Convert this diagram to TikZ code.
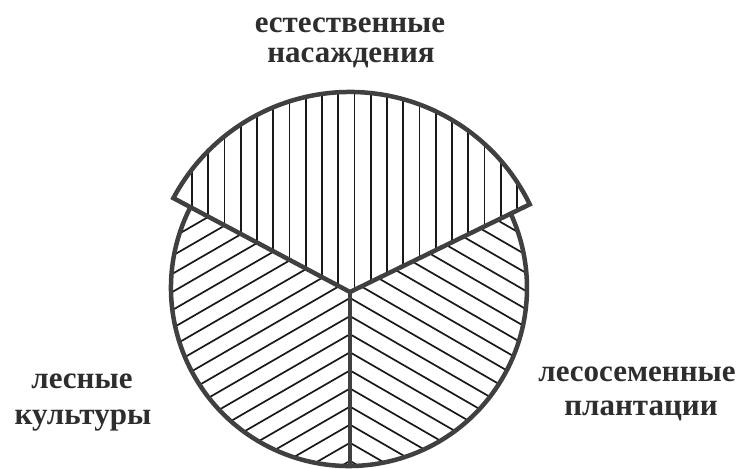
\documentclass[tikz,border=0pt]{standalone}
\usepackage{fontspec}
\setmainfont{Liberation Serif}
\begin{document}
\begin{tikzpicture}[x=1pt,y=1pt,
  outline/.style={draw=black!75, line width=4.5pt, line join=miter},
  hatch/.style={draw=black!90, line width=1.7pt},
  lbl/.style={anchor=base, inner sep=0pt, text=black!82, font=\fontsize{31}{31}\selectfont\bfseries}]
\useasboundingbox (0,0) rectangle (740,469);
\fill[white] (0,0) rectangle (740,469);
% centres
\coordinate (V) at (350,177);
\coordinate (O) at (349,181);
\coordinate (B) at (349,3);
% lower-left sector hatching
\begin{scope}
  \clip (O) circle (178);
  \clip (V) -- ++(152:400) -- ++(270:600) -- (V|-B) -- ++(0,-50) -- cycle;
  \foreach \m in {-12,...,14}
    \draw[hatch] (350,{171+18.1*\m}) -- ++(210:420);
\end{scope}
% lower-right sector hatching
\begin{scope}
  \clip (O) circle (178);
  \clip (V) -- ++(26:400) -- ++(270:600) -- (V|-B) -- ++(0,-50) -- cycle;
  \foreach \m in {-12,...,14}
    \draw[hatch] (350,{171+18.1*\m}) -- ++(330:420);
\end{scope}
% top sector hatching
\begin{scope}
  \clip (V) -- ++(26:200) arc[start angle=26, end angle=152, radius=200] -- cycle;
  \foreach \k in {0,...,20}
    \draw[hatch] ({192+16.25*\k},150) -- ++(0,340);
\end{scope}
% outlines
\draw[outline] (O) ++(153:178) arc[start angle=153, end angle=384.7, radius=178];
\draw[outline] (V) -- (V|-B);
\draw[outline] (V) -- ++(26:200) arc[start angle=26, end angle=152, radius=200] -- cycle;
% labels
\node[lbl] (t1) at (350,436) {естественные};
\node[lbl] (t2) at (351,406) {насаждения};
\node[lbl] (l1) at (82,80) {лесные};
\node[lbl] (l2) at (83,44) {культуры};
\node[lbl] (r1) at (637,87) {лесосеменные};
\node[lbl] (r2) at (641,53) {плантации};
\end{tikzpicture}
\end{document}
